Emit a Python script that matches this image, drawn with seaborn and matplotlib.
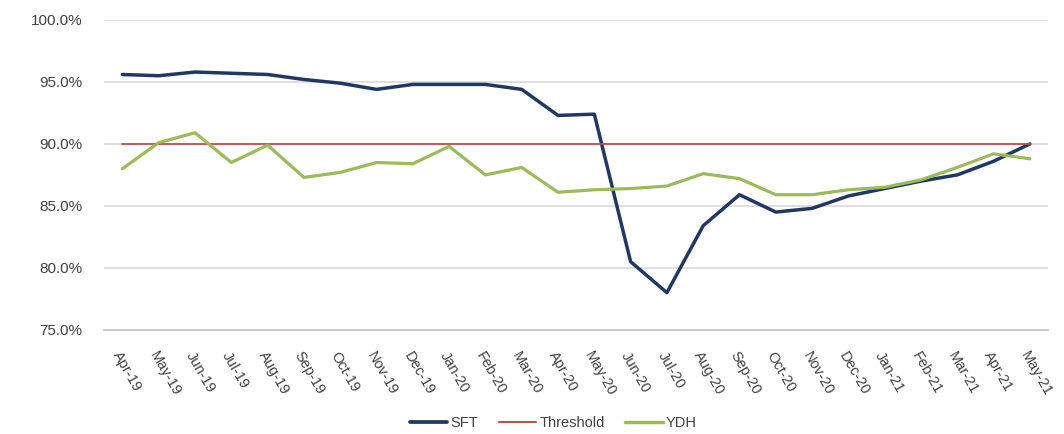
import seaborn as sns
import numpy as np
import pandas as pd
import matplotlib
matplotlib.use("Agg")
import matplotlib.pyplot as plt
from matplotlib.ticker import PercentFormatter
from matplotlib.lines import Line2D

months = ["Apr-19", "May-19", "Jun-19", "Jul-19", "Aug-19", "Sep-19", "Oct-19", "Nov-19",
          "Dec-19", "Jan-20", "Feb-20", "Mar-20", "Apr-20", "May-20", "Jun-20", "Jul-20",
          "Aug-20", "Sep-20", "Oct-20", "Nov-20", "Dec-20", "Jan-21", "Feb-21", "Mar-21",
          "Apr-21", "May-21"]
sft = [95.6, 95.5, 95.8, 95.7, 95.6, 95.2, 94.9, 94.4, 94.8, 94.8, 94.8, 94.4, 92.3,
       92.4, 80.5, 78.0, 83.4, 85.9, 84.5, 84.8, 85.8, 86.4, 87.0, 87.5, 88.6, 90.0]
threshold = [90.0] * len(months)
ydh = [88.0, 90.1, 90.9, 88.5, 89.9, 87.3, 87.7, 88.5, 88.4, 89.8, 87.5, 88.1, 86.1,
       86.3, 86.4, 86.6, 87.6, 87.2, 85.9, 85.9, 86.3, 86.5, 87.1, 88.1, 89.2, 88.8]

df = pd.DataFrame({
    "value": sft + threshold + ydh,
    "series": ["SFT"] * len(months) + ["Threshold"] * len(months) + ["YDH"] * len(months),
})
df["x"] = list(range(len(months))) * 3

sns.set_style("white")
plt.rcParams["font.family"] = ["Liberation Sans", "DejaVu Sans"]

fig = plt.figure(figsize=(10.64, 4.34), dpi=100)
ax = fig.add_axes([0.098, 0.240, 0.887, 0.714])

palette = {"SFT": "#1F3864", "Threshold": "#C0504D", "YDH": "#9BBB59"}
widths = {"SFT": 2.5, "Threshold": 1.3, "YDH": 2.3}
for y in [80, 85, 90, 95, 100]:
    ax.axhline(y, color="#D9D9D9", lw=1.2, zorder=0)

for name in palette:
    sns.lineplot(data=df[df["series"] == name], x="x", y="value", color=palette[name],
                 ax=ax, linewidth=widths[name], zorder=3)

ax.set_xlim(-0.5, len(months) - 0.5)
ax.set_ylim(75, 100)
ax.set_yticks([75, 80, 85, 90, 95, 100])
ax.yaxis.set_major_formatter(PercentFormatter(decimals=1))
ax.set_xticks(range(len(months)))
ax.set_xticklabels(months, rotation=-60, ha="left", va="top", rotation_mode="anchor")
ax.tick_params(axis="x", length=0, pad=14, labelsize=10.5, colors="#404040")
ax.tick_params(axis="y", length=0, pad=16, labelsize=11, colors="#404040")
ax.set_xlabel("")
ax.set_ylabel("")
for s in ["top", "right", "left"]:
    ax.spines[s].set_visible(False)
ax.spines["bottom"].set_color("#BFBFBF")
ax.spines["bottom"].set_linewidth(1.2)

handles = [Line2D([], [], color=palette[k], lw=widths[k] + 0.2) for k in palette]
fig.legend(handles, list(palette), loc="center", bbox_to_anchor=(0.52, 0.025), ncol=3,
           frameon=False, fontsize=10.5, handlelength=2.6, handletextpad=0.2, columnspacing=1.4,
           labelcolor="#404040")

fig.savefig("out.png", dpi=100)
